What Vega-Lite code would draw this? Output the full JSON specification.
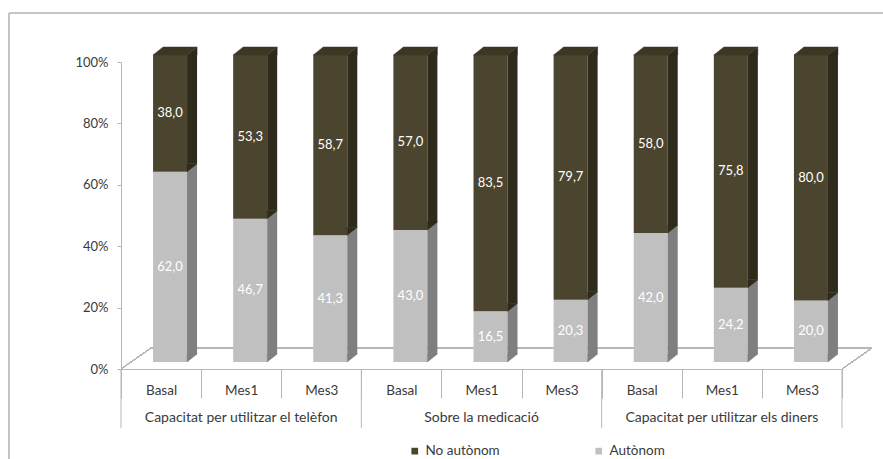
{
  "$schema": "https://vega.github.io/schema/vega-lite/v6.json",
  "width": 721,
  "height": 307,
  "autosize": {"type": "none"},
  "padding": {"left": 121, "top": 62, "right": 41, "bottom": 90},
  "background": "white",
  "config": {
    "view": {"stroke": null},
    "font": "Lato",
    "locale": {"number": {"decimal": ",", "thousands": ".", "grouping": [3], "currency": ["", " €"]}}
  },
  "data": {
    "values": [
      {"grup": "Capacitat per utilitzar el telèfon", "mes": "Basal", "estat": "Autònom", "valor": 62.0},
      {"grup": "Capacitat per utilitzar el telèfon", "mes": "Basal", "estat": "No autònom", "valor": 38.0},
      {"grup": "Capacitat per utilitzar el telèfon", "mes": "Mes1", "estat": "Autònom", "valor": 46.7},
      {"grup": "Capacitat per utilitzar el telèfon", "mes": "Mes1", "estat": "No autònom", "valor": 53.3},
      {"grup": "Capacitat per utilitzar el telèfon", "mes": "Mes3", "estat": "Autònom", "valor": 41.3},
      {"grup": "Capacitat per utilitzar el telèfon", "mes": "Mes3", "estat": "No autònom", "valor": 58.7},
      {"grup": "Sobre la medicació", "mes": "Basal", "estat": "Autònom", "valor": 43.0},
      {"grup": "Sobre la medicació", "mes": "Basal", "estat": "No autònom", "valor": 57.0},
      {"grup": "Sobre la medicació", "mes": "Mes1", "estat": "Autònom", "valor": 16.5},
      {"grup": "Sobre la medicació", "mes": "Mes1", "estat": "No autònom", "valor": 83.5},
      {"grup": "Sobre la medicació", "mes": "Mes3", "estat": "Autònom", "valor": 20.3},
      {"grup": "Sobre la medicació", "mes": "Mes3", "estat": "No autònom", "valor": 79.7},
      {"grup": "Capacitat per utilitzar els diners", "mes": "Basal", "estat": "Autònom", "valor": 42.0},
      {"grup": "Capacitat per utilitzar els diners", "mes": "Basal", "estat": "No autònom", "valor": 58.0},
      {"grup": "Capacitat per utilitzar els diners", "mes": "Mes1", "estat": "Autònom", "valor": 24.2},
      {"grup": "Capacitat per utilitzar els diners", "mes": "Mes1", "estat": "No autònom", "valor": 75.8},
      {"grup": "Capacitat per utilitzar els diners", "mes": "Mes3", "estat": "Autònom", "valor": 20.0},
      {"grup": "Capacitat per utilitzar els diners", "mes": "Mes3", "estat": "No autònom", "valor": 80.0}
    ]
  },
  "transform": [
    {"calculate": "datum.grup + '|' + datum.mes", "as": "cat"},
    {"stack": "valor", "groupby": ["cat"], "sort": [{"field": "estat", "order": "ascending"}], "as": ["v0", "v1"]}
  ],
  "encoding": {
    "x": {
      "field": "cat",
      "type": "nominal",
      "scale": {
        "domain": [
          "Capacitat per utilitzar el telèfon|Basal",
          "Capacitat per utilitzar el telèfon|Mes1",
          "Capacitat per utilitzar el telèfon|Mes3",
          "Sobre la medicació|Basal",
          "Sobre la medicació|Mes1",
          "Sobre la medicació|Mes3",
          "Capacitat per utilitzar els diners|Basal",
          "Capacitat per utilitzar els diners|Mes1",
          "Capacitat per utilitzar els diners|Mes3"
        ],
        "paddingInner": 0,
        "paddingOuter": 0
      },
      "axis": {
        "title": null,
        "labelExpr": "split(datum.label, '|')[1]",
        "labelAngle": 0,
        "labelFontSize": 13.5,
        "labelColor": "#3a3a3a",
        "labelBaseline": "middle",
        "labelPadding": -8,
        "tickBand": "extent",
        "tickSize": 29,
        "tickColor": "#b7b7b7",
        "domainColor": "#b7b7b7",
        "grid": false
      }
    }
  },
  "layer": [
    {
      "mark": {"type": "rule", "color": "#b7b7b7", "strokeWidth": 1, "xOffset": -10.06, "x2Offset": 70.06, "yOffset": -21},
      "encoding": {
        "x": {"datum": "Capacitat per utilitzar el telèfon|Basal"},
        "x2": {"datum": "Capacitat per utilitzar els diners|Mes3"},
        "y": {"datum": 0}
      }
    },
    {
      "mark": {"type": "rule", "color": "#b7b7b7", "strokeWidth": 1, "xOffset": -40.06, "x2Offset": -10.06, "y2Offset": -21},
      "encoding": {
        "x": {"datum": "Capacitat per utilitzar el telèfon|Basal"},
        "x2": {"datum": "Capacitat per utilitzar el telèfon|Basal"},
        "y": {"datum": 0},
        "y2": {"datum": 0}
      }
    },
    {
      "mark": {"type": "rule", "color": "#b7b7b7", "strokeWidth": 1, "xOffset": 40.06, "x2Offset": 70.06, "y2Offset": -21},
      "encoding": {
        "x": {"datum": "Capacitat per utilitzar els diners|Mes3"},
        "x2": {"datum": "Capacitat per utilitzar els diners|Mes3"},
        "y": {"datum": 0},
        "y2": {"datum": 0}
      }
    },
    {
      "mark": {"type": "bar", "width": 34, "xOffset": 9, "yOffset": -7, "y2Offset": -7},
      "encoding": {
        "y": {
          "field": "v1",
          "type": "quantitative",
          "scale": {"domain": [0, 100]},
          "axis": {
            "title": null,
            "values": [0, 20, 40, 60, 80, 100],
            "labelExpr": "datum.value + '%'",
            "labelFontSize": 13,
            "labelColor": "#3a3a3a",
            "labelPadding": 9,
            "tickSize": 4,
            "tickColor": "#b7b7b7",
            "domainColor": "#b7b7b7",
            "grid": false
          }
        },
        "y2": {"field": "v0"},
        "color": {
          "field": "estat",
          "type": "nominal",
          "scale": {"domain": ["No autònom", "Autònom"], "range": ["#4b442e", "#c0c0c0"]},
          "legend": {
            "title": null,
            "orient": "none",
            "direction": "horizontal",
            "legendX": 287,
            "legendY": 382,
            "padding": 0,
            "symbolType": "square",
            "symbolSize": 45,
            "symbolStrokeWidth": 0,
            "labelFontSize": 13.5,
            "labelColor": "#3a3a3a",
            "labelOffset": 4,
            "columnPadding": 92
          }
        }
      }
    },
    {
      "transform": [{"filter": "datum.estat == 'Autònom'"}],
      "mark": {"type": "bar", "width": 10, "xOffset": 31, "yOffset": -15, "y2Offset": -15, "color": "#7f7f7f"},
      "encoding": {"y": {"field": "v1", "type": "quantitative"}, "y2": {"field": "v0"}}
    },
    {
      "transform": [{"filter": "datum.estat == 'No autònom'"}],
      "mark": {"type": "bar", "width": 10, "xOffset": 31, "yOffset": -7, "y2Offset": -15, "color": "#2e2a1c"},
      "encoding": {"y": {"field": "v1", "type": "quantitative"}, "y2": {"field": "v0"}}
    },
    {
      "transform": [{"filter": "datum.estat == 'No autònom'"}],
      "mark": {"type": "point", "shape": "M26,-8L36,-8L26,0Z", "size": 4, "filled": true, "opacity": 1, "color": "#2e2a1c", "stroke": "#2e2a1c", "strokeWidth": 0.5, "yOffset": -7},
      "encoding": {"y": {"field": "v0", "type": "quantitative"}}
    },
    {
      "transform": [{"filter": "datum.estat == 'Autònom'"}],
      "mark": {"type": "point", "shape": "M26,-8L36,-8L26,0Z", "size": 4, "filled": true, "opacity": 1, "color": "#7f7f7f", "stroke": "#7f7f7f", "strokeWidth": 0.5, "yOffset": -7},
      "encoding": {"y": {"field": "v0", "type": "quantitative"}}
    },
    {
      "transform": [{"filter": "datum.estat == 'No autònom'"}],
      "mark": {"type": "point", "shape": "M26,0L36,-8L36,0Z", "size": 4, "filled": true, "opacity": 1, "color": "#2e2a1c", "stroke": "#2e2a1c", "strokeWidth": 0.5, "yOffset": -7},
      "encoding": {"y": {"field": "v1", "type": "quantitative"}}
    },
    {
      "transform": [{"filter": "datum.estat == 'No autònom'"}],
      "mark": {"type": "point", "shape": "M-8,0L2,-8L36,-8L26,0Z", "size": 4, "filled": true, "opacity": 1, "color": "#3c3725", "stroke": "#3c3725", "strokeWidth": 0.5, "yOffset": -7},
      "encoding": {"y": {"field": "v1", "type": "quantitative"}}
    },
    {
      "mark": {"type": "text", "dx": 9, "dy": -7, "align": "center", "baseline": "middle", "color": "white", "fontSize": 13},
      "encoding": {
        "y": {"field": "valor", "type": "quantitative", "stack": "zero", "bandPosition": 0.5},
        "detail": {"field": "estat"},
        "order": {"field": "estat", "sort": "ascending"},
        "text": {"field": "valor", "type": "quantitative", "format": ".1f"}
      }
    },
    {
      "transform": [{"filter": "datum.mes == 'Basal' && datum.estat == 'Autònom'"}],
      "mark": {"type": "rule", "color": "#b7b7b7", "strokeWidth": 1, "xOffset": -40.06, "y2Offset": 59},
      "encoding": {"y": {"datum": 0}, "y2": {"datum": 0}}
    },
    {
      "transform": [{"filter": "datum.cat == 'Capacitat per utilitzar els diners|Mes3' && datum.estat == 'Autònom'"}],
      "mark": {"type": "rule", "color": "#b7b7b7", "strokeWidth": 1, "xOffset": 40.06, "y2Offset": 59},
      "encoding": {"y": {"datum": 0}, "y2": {"datum": 0}}
    },
    {
      "transform": [{"filter": "datum.mes == 'Mes1' && datum.estat == 'Autònom'"}],
      "mark": {"type": "text", "dy": 49, "align": "center", "baseline": "middle", "color": "#3a3a3a", "fontSize": 14},
      "encoding": {"y": {"datum": 0}, "text": {"field": "grup"}}
    },
    {
      "mark": {"type": "rule", "color": "#c4c4c4", "strokeWidth": 1.5, "xOffset": -152.06, "x2Offset": 100, "yOffset": -49},
      "encoding": {
        "x": {"datum": "Capacitat per utilitzar el telèfon|Basal"},
        "x2": {"datum": "Capacitat per utilitzar els diners|Mes3"},
        "y": {"datum": 100}
      }
    },
    {
      "mark": {"type": "rule", "color": "#c4c4c4", "strokeWidth": 1.5, "xOffset": -152.06, "yOffset": -49, "y2Offset": 120},
      "encoding": {
        "x": {"datum": "Capacitat per utilitzar el telèfon|Basal"},
        "y": {"datum": 100},
        "y2": {"datum": 0}
      }
    }
  ]
}
